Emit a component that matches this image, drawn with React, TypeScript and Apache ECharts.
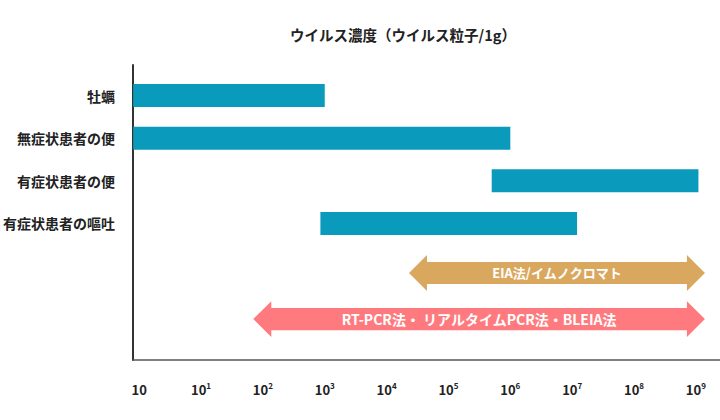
import React, { useEffect, useRef } from "react";
import * as echarts from "echarts";

const titleText = "ウイルス濃度（ウイルス粒子/1g）";

// sample categories (rows 0..3)
const categories = ["牡蠣", "無症状患者の便", "有症状患者の便", "有症状患者の嘔吐"];
// virus concentration ranges (particles / g)
const rangeStart = [0.8, 0.8, 5e5, 8.5e2];
const rangeEnd = [1e3, 1e6, 1.1e9, 1.2e7];

// detection methods (double-headed arrows)
const methods = ["EIA法/イムノクロマト", "RT-PCR法・ リアルタイムPCR法・BLEIA法"];
const methodStart = [2.3e4, 70];
const methodEnd = [1.4e9, 1.4e9];
const methodRow = [4.16, 5.24];
const methodColors = ["#D9A85E", "#FF7A7E"];

// x tick labels (exponents of ten)
const tickExponents = [0, 1, 2, 3, 4, 5, 6, 7, 8, 9];
const tickBase = ["10", "10", "10", "10", "10", "10", "10", "10", "10", "10"];
const tickSup = ["", "1", "2", "3", "4", "5", "6", "7", "8", "9"];

const FONT = '"Noto Sans CJK JP", "Noto Sans", sans-serif';
const BAR_COLOR = "#0A9ABB";

export default function App() {
  const ref = useRef<HTMLDivElement>(null);

  useEffect(() => {
    if (!ref.current) return;
    const chart = echarts.init(ref.current, undefined, { renderer: "svg" });

    const barData = categories.map((c, i) => [
      Math.log10(rangeStart[i]),
      Math.log10(rangeEnd[i]),
      i,
    ]);
    const arrowData = methods.map((m, i) => [
      Math.log10(methodStart[i]),
      Math.log10(methodEnd[i]),
      methodRow[i],
      i,
    ]);

    const option: any = {
      animation: false,
      textStyle: { fontFamily: FONT },
      title: {
        text: titleText,
        left: 398,
        top: 22,
        textAlign: "center",
        textStyle: { fontFamily: FONT, fontSize: 14.5, fontWeight: "bold", color: "#222" },
      },
      grid: { left: 130, right: 0, top: 65, bottom: 60, containLabel: false },
      xAxis: {
        type: "value",
        min: -0.1,
        max: 9.39,
        splitLine: { show: false },
        axisTick: { show: false },
        axisLine: { show: true, onZero: false, lineStyle: { color: "#555", width: 1.5 } },
        axisLabel: {
          customValues: tickExponents,
          margin: 21,
          formatter: (v: number) => {
            const i = tickExponents.indexOf(Math.round(v));
            if (i < 0) return "";
            return tickSup[i]
              ? `{b|${tickBase[i]}}{s|${tickSup[i]}}`
              : `{b|${tickBase[i]}}`;
          },
          rich: {
            b: { fontFamily: FONT, fontSize: 13, fontWeight: "bold", color: "#222", lineHeight: 16 },
            s: { fontFamily: FONT, fontSize: 8, fontWeight: "bold", color: "#222", lineHeight: 16, padding: [0, 0, 7, 0] },
          },
        },
      },
      yAxis: {
        type: "value",
        inverse: true,
        min: -0.715,
        max: 6.2,
        splitLine: { show: false },
        axisTick: { show: false },
        axisLine: { show: true, onZero: false, lineStyle: { color: "#333", width: 2 } },
        axisLabel: {
          customValues: [0, 1, 2, 3],
          margin: 18,
          fontFamily: FONT,
          fontSize: 14,
          fontWeight: "bold",
          color: "#222",
          formatter: (v: number) => categories[Math.round(v)] ?? "",
        },
      },
      series: [
        {
          type: "custom",
          data: barData,
          encode: { x: [0, 1], y: 2 },
          renderItem: (params: any, api: any) => {
            const s = api.coord([api.value(0), api.value(2)]);
            const e = api.coord([api.value(1), api.value(2)]);
            const h = api.size([0, 0.54])[1];
            return {
              type: "rect",
              shape: { x: s[0], y: s[1] - h / 2, width: e[0] - s[0], height: h },
              style: { fill: BAR_COLOR },
            };
          },
        },
        {
          type: "custom",
          data: arrowData,
          encode: { x: [0, 1], y: 2 },
          renderItem: (params: any, api: any) => {
            const idx = api.value(3);
            const s = api.coord([api.value(0), api.value(2)]);
            const e = api.coord([api.value(1), api.value(2)]);
            const y = s[1];
            const bh = api.size([0, 0.52])[1] / 2;
            const hh = api.size([0, 0.84])[1] / 2;
            const hl = 18;
            const x0 = s[0];
            const x1 = e[0];
            const points = [
              [x0, y],
              [x0 + hl, y - hh],
              [x0 + hl, y - bh],
              [x1 - hl, y - bh],
              [x1 - hl, y - hh],
              [x1, y],
              [x1 - hl, y + hh],
              [x1 - hl, y + bh],
              [x0 + hl, y + bh],
              [x0 + hl, y + hh],
            ];
            return {
              type: "group",
              children: [
                {
                  type: "polygon",
                  shape: { points },
                  style: { fill: methodColors[idx] },
                },
                {
                  type: "text",
                  style: {
                    text: methods[idx],
                    x: (x0 + x1) / 2,
                    y: y,
                    textAlign: "center",
                    textVerticalAlign: "middle",
                    fill: "#fff",
                    fontFamily: FONT,
                    fontSize: idx === 1 ? 14 : 13,
                    fontWeight: "bold",
                  },
                },
              ],
            };
          },
        },
      ],
    };

    chart.setOption(option);
    return () => chart.dispose();
  }, []);

  return (
    <div
      ref={ref}
      style={{ position: "fixed", left: 0, top: 0, width: 720, height: 420, background: "#fff" }}
    />
  );
}
